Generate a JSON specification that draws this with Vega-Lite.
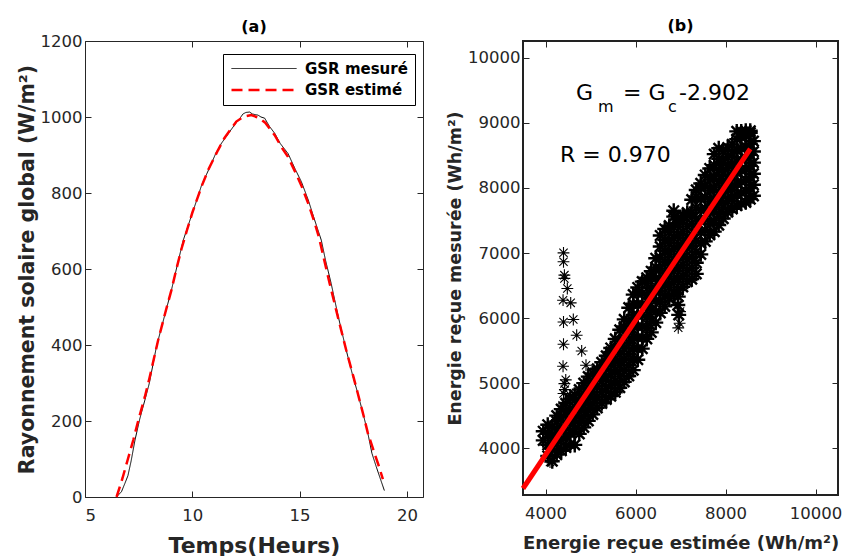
{
  "$schema": "https://vega.github.io/schema/vega-lite/v6.json",
  "background": "white",
  "padding": {"left": 16, "top": 16, "right": 0, "bottom": 0},
  "bounds": "flush",
  "spacing": 100,
  "config": {
    "font": "DejaVu Sans",
    "axis": {
      "labelFont": "DejaVu Sans", "labelFontSize": 16.5, "labelColor": "#262626",
      "grid": false, "tickSize": -6, "tickColor": "#262626", "tickWidth": 1,
      "domain": false, "labelPadding": 9, "format": "d",
      "titleFont": "DejaVu Sans", "titleFontWeight": "bold", "titleColor": "#262626"
    },
    "axisX": {"labelPadding": 16},
    "title": {"font": "DejaVu Sans", "fontSize": 16, "fontWeight": "bold", "color": "#000"}
  },
  "hconcat": [
    {
      "width": 338, "height": 456,
      "title": {"text": "(a)", "offset": -2},
      "view": {"stroke": "#262626", "strokeWidth": 1},
      "data": {"values": [
        {"series": "GSR mesuré", "t": 6.5, "g": 2},
        {"series": "GSR mesuré", "t": 6.7, "g": 14},
        {"series": "GSR mesuré", "t": 6.86, "g": 36},
        {"series": "GSR mesuré", "t": 7.0, "g": 56},
        {"series": "GSR mesuré", "t": 7.15, "g": 95},
        {"series": "GSR mesuré", "t": 7.33, "g": 150},
        {"series": "GSR mesuré", "t": 7.55, "g": 205},
        {"series": "GSR mesuré", "t": 7.79, "g": 255},
        {"series": "GSR mesuré", "t": 8.0, "g": 300},
        {"series": "GSR mesuré", "t": 8.33, "g": 396},
        {"series": "GSR mesuré", "t": 8.7, "g": 475},
        {"series": "GSR mesuré", "t": 9.03, "g": 545},
        {"series": "GSR mesuré", "t": 9.3, "g": 610},
        {"series": "GSR mesuré", "t": 9.58, "g": 676},
        {"series": "GSR mesuré", "t": 9.9, "g": 730},
        {"series": "GSR mesuré", "t": 10.2, "g": 780},
        {"series": "GSR mesuré", "t": 10.43, "g": 820},
        {"series": "GSR mesuré", "t": 10.8, "g": 866},
        {"series": "GSR mesuré", "t": 11.1, "g": 905},
        {"series": "GSR mesuré", "t": 11.36, "g": 931},
        {"series": "GSR mesuré", "t": 11.7, "g": 958},
        {"series": "GSR mesuré", "t": 11.98, "g": 980},
        {"series": "GSR mesuré", "t": 12.2, "g": 995},
        {"series": "GSR mesuré", "t": 12.36, "g": 1008},
        {"series": "GSR mesuré", "t": 12.5, "g": 1012},
        {"series": "GSR mesuré", "t": 12.67, "g": 1013},
        {"series": "GSR mesuré", "t": 12.8, "g": 1008},
        {"series": "GSR mesuré", "t": 12.95, "g": 1006},
        {"series": "GSR mesuré", "t": 13.06, "g": 1005},
        {"series": "GSR mesuré", "t": 13.2, "g": 1000},
        {"series": "GSR mesuré", "t": 13.37, "g": 997},
        {"series": "GSR mesuré", "t": 13.6, "g": 975},
        {"series": "GSR mesuré", "t": 13.84, "g": 957},
        {"series": "GSR mesuré", "t": 14.1, "g": 930},
        {"series": "GSR mesuré", "t": 14.46, "g": 904},
        {"series": "GSR mesuré", "t": 14.8, "g": 862},
        {"series": "GSR mesuré", "t": 15.08, "g": 830},
        {"series": "GSR mesuré", "t": 15.4, "g": 782},
        {"series": "GSR mesuré", "t": 15.7, "g": 729},
        {"series": "GSR mesuré", "t": 16.01, "g": 676},
        {"series": "GSR mesuré", "t": 16.2, "g": 625},
        {"series": "GSR mesuré", "t": 16.47, "g": 562},
        {"series": "GSR mesuré", "t": 16.8, "g": 475},
        {"series": "GSR mesuré", "t": 17.17, "g": 387},
        {"series": "GSR mesuré", "t": 17.45, "g": 325},
        {"series": "GSR mesuré", "t": 17.71, "g": 273},
        {"series": "GSR mesuré", "t": 18.0, "g": 210},
        {"series": "GSR mesuré", "t": 18.18, "g": 168},
        {"series": "GSR mesuré", "t": 18.37, "g": 115},
        {"series": "GSR mesuré", "t": 18.57, "g": 80},
        {"series": "GSR mesuré", "t": 18.75, "g": 50},
        {"series": "GSR mesuré", "t": 18.95, "g": 17},
        {"series": "GSR estimé", "t": 6.47, "g": 0},
        {"series": "GSR estimé", "t": 6.75, "g": 50},
        {"series": "GSR estimé", "t": 7.0, "g": 100},
        {"series": "GSR estimé", "t": 7.25, "g": 150},
        {"series": "GSR estimé", "t": 7.5, "g": 205},
        {"series": "GSR estimé", "t": 7.79, "g": 264},
        {"series": "GSR estimé", "t": 8.0, "g": 312},
        {"series": "GSR estimé", "t": 8.41, "g": 413},
        {"series": "GSR estimé", "t": 8.75, "g": 487},
        {"series": "GSR estimé", "t": 9.03, "g": 545},
        {"series": "GSR estimé", "t": 9.25, "g": 598},
        {"series": "GSR estimé", "t": 9.5, "g": 654},
        {"series": "GSR estimé", "t": 9.75, "g": 702},
        {"series": "GSR estimé", "t": 10.0, "g": 748},
        {"series": "GSR estimé", "t": 10.43, "g": 817},
        {"series": "GSR estimé", "t": 10.75, "g": 862},
        {"series": "GSR estimé", "t": 11.2, "g": 913},
        {"series": "GSR estimé", "t": 11.5, "g": 945},
        {"series": "GSR estimé", "t": 12.05, "g": 988},
        {"series": "GSR estimé", "t": 12.4, "g": 1001},
        {"series": "GSR estimé", "t": 12.75, "g": 1005},
        {"series": "GSR estimé", "t": 13.1, "g": 998},
        {"series": "GSR estimé", "t": 13.4, "g": 985},
        {"series": "GSR estimé", "t": 13.84, "g": 952},
        {"series": "GSR estimé", "t": 14.2, "g": 917},
        {"series": "GSR estimé", "t": 14.46, "g": 895},
        {"series": "GSR estimé", "t": 14.8, "g": 855},
        {"series": "GSR estimé", "t": 15.08, "g": 820},
        {"series": "GSR estimé", "t": 15.4, "g": 773},
        {"series": "GSR estimé", "t": 15.7, "g": 722},
        {"series": "GSR estimé", "t": 15.9, "g": 684},
        {"series": "GSR estimé", "t": 16.1, "g": 635},
        {"series": "GSR estimé", "t": 16.4, "g": 562},
        {"series": "GSR estimé", "t": 16.8, "g": 470},
        {"series": "GSR estimé", "t": 17.17, "g": 387},
        {"series": "GSR estimé", "t": 17.5, "g": 318},
        {"series": "GSR estimé", "t": 17.71, "g": 273},
        {"series": "GSR estimé", "t": 18.0, "g": 210},
        {"series": "GSR estimé", "t": 18.18, "g": 168},
        {"series": "GSR estimé", "t": 18.49, "g": 115},
        {"series": "GSR estimé", "t": 18.7, "g": 80},
        {"series": "GSR estimé", "t": 18.88, "g": 47}
      ]},
      "layer": [
        {
          "mark": {"type": "line"},
          "encoding": {
            "x": {"field": "t", "type": "quantitative",
                  "scale": {"domain": [5, 20.75], "nice": false, "zero": false},
                  "axis": {"values": [5, 10, 15, 20], "title": "Temps(Heurs)", "titleFontSize": 22, "titlePadding": 12}},
            "y": {"field": "g", "type": "quantitative",
                  "scale": {"domain": [0, 1200], "nice": false},
                  "axis": {"values": [0, 200, 400, 600, 800, 1000, 1200], "title": "Rayonnement solaire global (W/m²)", "titleFontSize": 20.5, "titlePadding": 3}},
            "color": {"field": "series", "type": "nominal",
                      "scale": {"domain": ["GSR mesuré", "GSR estimé"], "range": ["#000000", "#ff0000"]},
                      "legend": {"orient": "none", "legendX": 138, "legendY": 13, "title": null,
                                 "symbolType": "M-1,0L9,0", "symbolSize": 169, "rowPadding": 5,
                                 "labelFont": "DejaVu Sans", "labelFontWeight": "bold", "labelFontSize": 15,
                                 "labelColor": "#000", "strokeColor": "#000", "fillColor": "white",
                                 "padding": 7, "labelOffset": 59}},
            "strokeDash": {"field": "series", "type": "nominal",
                           "scale": {"domain": ["GSR mesuré", "GSR estimé"], "range": [[1, 0], [11, 6]]}},
            "strokeWidth": {"field": "series", "type": "nominal",
                            "scale": {"domain": ["GSR mesuré", "GSR estimé"], "range": [1, 2.5]}}
          }
        },
        {
          "mark": {"type": "point", "opacity": 0},
          "encoding": {
            "x": {"field": "t", "type": "quantitative",
                  "axis": {"orient": "top", "values": [5, 10, 15, 20], "labels": false, "title": null}},
            "y": {"field": "g", "type": "quantitative",
                  "axis": {"orient": "right", "values": [0, 200, 400, 600, 800, 1000, 1200], "labels": false, "title": null}}
          }
        }
      ],
      "resolve": {"axis": {"x": "independent", "y": "independent"}}
    },
    {
      "width": 315, "height": 454,
      "title": {"text": "(b)", "offset": 7},
      "view": {"stroke": "#222", "strokeWidth": 2},
      "layer": [
        {
          "data": {"values": [
            {"est": 3950, "mes": 4120}, {"est": 3950, "mes": 4260},
            {"est": 4050, "mes": 3880}, {"est": 4050, "mes": 4050}, {"est": 4050, "mes": 4220}, {"est": 4050, "mes": 4360},
            {"est": 4150, "mes": 3800}, {"est": 4150, "mes": 3990}, {"est": 4150, "mes": 4160}, {"est": 4150, "mes": 4330},
            {"est": 4250, "mes": 3900}, {"est": 4250, "mes": 4070}, {"est": 4250, "mes": 4240}, {"est": 4250, "mes": 4410}, {"est": 4250, "mes": 4500},
            {"est": 4350, "mes": 3960}, {"est": 4350, "mes": 4130}, {"est": 4350, "mes": 4300}, {"est": 4350, "mes": 4470}, {"est": 4350, "mes": 4600},
            {"est": 4450, "mes": 4010}, {"est": 4450, "mes": 4180}, {"est": 4450, "mes": 4350}, {"est": 4450, "mes": 4520}, {"est": 4450, "mes": 4690},
            {"est": 4550, "mes": 4060}, {"est": 4550, "mes": 4230}, {"est": 4550, "mes": 4400}, {"est": 4550, "mes": 4570}, {"est": 4550, "mes": 4760},
            {"est": 4650, "mes": 4050}, {"est": 4650, "mes": 4290}, {"est": 4650, "mes": 4460}, {"est": 4650, "mes": 4630}, {"est": 4650, "mes": 4820},
            {"est": 4750, "mes": 4220}, {"est": 4750, "mes": 4390}, {"est": 4750, "mes": 4560}, {"est": 4750, "mes": 4730}, {"est": 4750, "mes": 4900},
            {"est": 4850, "mes": 4320}, {"est": 4850, "mes": 4490}, {"est": 4850, "mes": 4660}, {"est": 4850, "mes": 4830}, {"est": 4850, "mes": 5000},
            {"est": 4950, "mes": 4420}, {"est": 4950, "mes": 4590}, {"est": 4950, "mes": 4760}, {"est": 4950, "mes": 4930}, {"est": 4950, "mes": 5100},
            {"est": 5050, "mes": 4520}, {"est": 5050, "mes": 4690}, {"est": 5050, "mes": 4860}, {"est": 5050, "mes": 5030}, {"est": 5050, "mes": 5150},
            {"est": 5150, "mes": 4620}, {"est": 5150, "mes": 4790}, {"est": 5150, "mes": 4960}, {"est": 5150, "mes": 5130}, {"est": 5150, "mes": 5220},
            {"est": 5250, "mes": 4690}, {"est": 5250, "mes": 4860}, {"est": 5250, "mes": 5030}, {"est": 5250, "mes": 5200}, {"est": 5250, "mes": 5320},
            {"est": 5350, "mes": 4750}, {"est": 5350, "mes": 4920}, {"est": 5350, "mes": 5090}, {"est": 5350, "mes": 5260}, {"est": 5350, "mes": 5420},
            {"est": 5450, "mes": 4800}, {"est": 5450, "mes": 4970}, {"est": 5450, "mes": 5140}, {"est": 5450, "mes": 5310}, {"est": 5450, "mes": 5480}, {"est": 5450, "mes": 5540},
            {"est": 5550, "mes": 4860}, {"est": 5550, "mes": 5030}, {"est": 5550, "mes": 5200}, {"est": 5550, "mes": 5370}, {"est": 5550, "mes": 5540}, {"est": 5550, "mes": 5680},
            {"est": 5650, "mes": 4930}, {"est": 5650, "mes": 5100}, {"est": 5650, "mes": 5270}, {"est": 5650, "mes": 5440}, {"est": 5650, "mes": 5610}, {"est": 5650, "mes": 5820},
            {"est": 5750, "mes": 5020}, {"est": 5750, "mes": 5190}, {"est": 5750, "mes": 5360}, {"est": 5750, "mes": 5530}, {"est": 5750, "mes": 5700}, {"est": 5750, "mes": 5870}, {"est": 5750, "mes": 5980},
            {"est": 5850, "mes": 5110}, {"est": 5850, "mes": 5280}, {"est": 5850, "mes": 5450}, {"est": 5850, "mes": 5620}, {"est": 5850, "mes": 5790}, {"est": 5850, "mes": 5960}, {"est": 5850, "mes": 6160},
            {"est": 5950, "mes": 5200}, {"est": 5950, "mes": 5370}, {"est": 5950, "mes": 5540}, {"est": 5950, "mes": 5710}, {"est": 5950, "mes": 5880}, {"est": 5950, "mes": 6050}, {"est": 5950, "mes": 6220}, {"est": 5950, "mes": 6360},
            {"est": 6050, "mes": 5360}, {"est": 6050, "mes": 5530}, {"est": 6050, "mes": 5700}, {"est": 6050, "mes": 5870}, {"est": 6050, "mes": 6040}, {"est": 6050, "mes": 6210}, {"est": 6050, "mes": 6380}, {"est": 6050, "mes": 6470},
            {"est": 6150, "mes": 5530}, {"est": 6150, "mes": 5700}, {"est": 6150, "mes": 5870}, {"est": 6150, "mes": 6040}, {"est": 6150, "mes": 6210}, {"est": 6150, "mes": 6380}, {"est": 6150, "mes": 6560},
            {"est": 6250, "mes": 5680}, {"est": 6250, "mes": 5850}, {"est": 6250, "mes": 6020}, {"est": 6250, "mes": 6190}, {"est": 6250, "mes": 6360}, {"est": 6250, "mes": 6530}, {"est": 6250, "mes": 6620},
            {"est": 6350, "mes": 5780}, {"est": 6350, "mes": 5950}, {"est": 6350, "mes": 6120}, {"est": 6350, "mes": 6290}, {"est": 6350, "mes": 6460}, {"est": 6350, "mes": 6630}, {"est": 6350, "mes": 6720},
            {"est": 6450, "mes": 5930}, {"est": 6450, "mes": 6100}, {"est": 6450, "mes": 6270}, {"est": 6450, "mes": 6440}, {"est": 6450, "mes": 6610}, {"est": 6450, "mes": 6780}, {"est": 6450, "mes": 6920},
            {"est": 6550, "mes": 6080}, {"est": 6550, "mes": 6250}, {"est": 6550, "mes": 6420}, {"est": 6550, "mes": 6590}, {"est": 6550, "mes": 6760}, {"est": 6550, "mes": 6930}, {"est": 6550, "mes": 7100}, {"est": 6550, "mes": 7270},
            {"est": 6650, "mes": 6180}, {"est": 6650, "mes": 6350}, {"est": 6650, "mes": 6520}, {"est": 6650, "mes": 6690}, {"est": 6650, "mes": 6860}, {"est": 6650, "mes": 7030}, {"est": 6650, "mes": 7200}, {"est": 6650, "mes": 7370},
            {"est": 6750, "mes": 6300}, {"est": 6750, "mes": 6470}, {"est": 6750, "mes": 6640}, {"est": 6750, "mes": 6810}, {"est": 6750, "mes": 6980}, {"est": 6750, "mes": 7150}, {"est": 6750, "mes": 7320}, {"est": 6750, "mes": 7420},
            {"est": 6850, "mes": 6380}, {"est": 6850, "mes": 6550}, {"est": 6850, "mes": 6720}, {"est": 6850, "mes": 6890}, {"est": 6850, "mes": 7060}, {"est": 6850, "mes": 7230}, {"est": 6850, "mes": 7400}, {"est": 6850, "mes": 7560}, {"est": 6850, "mes": 7650},
            {"est": 6950, "mes": 6430}, {"est": 6950, "mes": 6600}, {"est": 6950, "mes": 6770}, {"est": 6950, "mes": 6940}, {"est": 6950, "mes": 7110}, {"est": 6950, "mes": 7280}, {"est": 6950, "mes": 7450}, {"est": 6950, "mes": 7520},
            {"est": 6960, "mes": 6050}, {"est": 6940, "mes": 6200}, {"est": 6950, "mes": 6330},
            {"est": 7050, "mes": 6480}, {"est": 7050, "mes": 6650}, {"est": 7050, "mes": 6820}, {"est": 7050, "mes": 6990}, {"est": 7050, "mes": 7160}, {"est": 7050, "mes": 7330}, {"est": 7050, "mes": 7500}, {"est": 7050, "mes": 7570},
            {"est": 7150, "mes": 6560}, {"est": 7150, "mes": 6730}, {"est": 7150, "mes": 6900}, {"est": 7150, "mes": 7070}, {"est": 7150, "mes": 7240}, {"est": 7150, "mes": 7410}, {"est": 7150, "mes": 7580}, {"est": 7150, "mes": 7620},
            {"est": 7250, "mes": 6600}, {"est": 7250, "mes": 6770}, {"est": 7250, "mes": 6940}, {"est": 7250, "mes": 7110}, {"est": 7250, "mes": 7280}, {"est": 7250, "mes": 7450}, {"est": 7250, "mes": 7620}, {"est": 7250, "mes": 7820},
            {"est": 7350, "mes": 6680}, {"est": 7350, "mes": 6850}, {"est": 7350, "mes": 7020}, {"est": 7350, "mes": 7190}, {"est": 7350, "mes": 7360}, {"est": 7350, "mes": 7530}, {"est": 7350, "mes": 7700}, {"est": 7350, "mes": 7870}, {"est": 7350, "mes": 7970},
            {"est": 7450, "mes": 6980}, {"est": 7450, "mes": 7150}, {"est": 7450, "mes": 7320}, {"est": 7450, "mes": 7490}, {"est": 7450, "mes": 7660}, {"est": 7450, "mes": 7830}, {"est": 7450, "mes": 8000}, {"est": 7450, "mes": 8070},
            {"est": 7550, "mes": 7180}, {"est": 7550, "mes": 7350}, {"est": 7550, "mes": 7520}, {"est": 7550, "mes": 7690}, {"est": 7550, "mes": 7860}, {"est": 7550, "mes": 8030}, {"est": 7550, "mes": 8200},
            {"est": 7650, "mes": 7280}, {"est": 7650, "mes": 7450}, {"est": 7650, "mes": 7620}, {"est": 7650, "mes": 7790}, {"est": 7650, "mes": 7960}, {"est": 7650, "mes": 8130}, {"est": 7650, "mes": 8300},
            {"est": 7750, "mes": 7330}, {"est": 7750, "mes": 7500}, {"est": 7750, "mes": 7670}, {"est": 7750, "mes": 7840}, {"est": 7750, "mes": 8010}, {"est": 7750, "mes": 8180}, {"est": 7750, "mes": 8350}, {"est": 7750, "mes": 8520},
            {"est": 7850, "mes": 7430}, {"est": 7850, "mes": 7600}, {"est": 7850, "mes": 7770}, {"est": 7850, "mes": 7940}, {"est": 7850, "mes": 8110}, {"est": 7850, "mes": 8280}, {"est": 7850, "mes": 8450}, {"est": 7850, "mes": 8610},
            {"est": 7950, "mes": 7530}, {"est": 7950, "mes": 7700}, {"est": 7950, "mes": 7870}, {"est": 7950, "mes": 8040}, {"est": 7950, "mes": 8210}, {"est": 7950, "mes": 8380}, {"est": 7950, "mes": 8570},
            {"est": 8050, "mes": 7630}, {"est": 8050, "mes": 7800}, {"est": 8050, "mes": 7970}, {"est": 8050, "mes": 8140}, {"est": 8050, "mes": 8310}, {"est": 8050, "mes": 8480}, {"est": 8050, "mes": 8620},
            {"est": 8150, "mes": 7680}, {"est": 8150, "mes": 7850}, {"est": 8150, "mes": 8020}, {"est": 8150, "mes": 8190}, {"est": 8150, "mes": 8360}, {"est": 8150, "mes": 8530}, {"est": 8150, "mes": 8670},
            {"est": 8250, "mes": 7730}, {"est": 8250, "mes": 7900}, {"est": 8250, "mes": 8070}, {"est": 8250, "mes": 8240}, {"est": 8250, "mes": 8410}, {"est": 8250, "mes": 8580}, {"est": 8250, "mes": 8750}, {"est": 8250, "mes": 8870},
            {"est": 8350, "mes": 7760}, {"est": 8350, "mes": 7930}, {"est": 8350, "mes": 8100}, {"est": 8350, "mes": 8270}, {"est": 8350, "mes": 8440}, {"est": 8350, "mes": 8610}, {"est": 8350, "mes": 8780}, {"est": 8350, "mes": 8870},
            {"est": 8450, "mes": 7780}, {"est": 8450, "mes": 7950}, {"est": 8450, "mes": 8120}, {"est": 8450, "mes": 8290}, {"est": 8450, "mes": 8460}, {"est": 8450, "mes": 8630}, {"est": 8450, "mes": 8800}, {"est": 8450, "mes": 8880},
            {"est": 8550, "mes": 7830}, {"est": 8550, "mes": 8000}, {"est": 8550, "mes": 8170}, {"est": 8550, "mes": 8340}, {"est": 8550, "mes": 8510}, {"est": 8550, "mes": 8680}, {"est": 8550, "mes": 8850}, {"est": 8550, "mes": 8880},
            {"est": 8620, "mes": 7880}, {"est": 8620, "mes": 8050}, {"est": 8620, "mes": 8220}, {"est": 8620, "mes": 8390}, {"est": 8620, "mes": 8560}, {"est": 8620, "mes": 8720}
          ]},
          "mark": {"type": "point", "shape": "M-1,0L1,0M0,-1L0,1M-0.7,-0.7L0.7,0.7M-0.7,0.7L0.7,-0.7",
                   "filled": false, "size": 225, "strokeWidth": 2.4, "color": "#000", "opacity": 1},
          "encoding": {
            "x": {"field": "est", "type": "quantitative",
                  "scale": {"domain": [3500, 10500], "nice": false, "zero": false},
                  "axis": {"values": [4000, 6000, 8000, 10000], "title": "Energie reçue estimée (Wh/m²)", "titleFontSize": 18, "titlePadding": 13}},
            "y": {"field": "mes", "type": "quantitative",
                  "scale": {"domain": [3280, 10260], "nice": false, "zero": false},
                  "axis": {"values": [4000, 5000, 6000, 7000, 8000, 9000, 10000], "title": "Energie reçue mesurée (Wh/m²)", "titleFontSize": 17.5, "titlePadding": 3}}
          }
        },
        {
          "data": {"values": [
            {"est": 4400, "mes": 7003}, {"est": 4400, "mes": 6865}, {"est": 4420, "mes": 6660}, {"est": 4420, "mes": 6610},
            {"est": 4485, "mes": 6455}, {"est": 4390, "mes": 6275}, {"est": 4560, "mes": 6234}, {"est": 4618, "mes": 5978},
            {"est": 4400, "mes": 5940}, {"est": 4693, "mes": 5737}, {"est": 4400, "mes": 5598}, {"est": 4804, "mes": 5495},
            {"est": 4900, "mes": 5275}, {"est": 4390, "mes": 5260}, {"est": 4420, "mes": 4993}, {"est": 4450, "mes": 5050},
            {"est": 4400, "mes": 4840}, {"est": 4380, "mes": 4660}, {"est": 4430, "mes": 4900}, {"est": 4100, "mes": 3787},
            {"est": 6950, "mes": 5850}, {"est": 6980, "mes": 5920}, {"est": 6990, "mes": 6100}
          ]},
          "mark": {"type": "point", "shape": "M-1,0L1,0M0,-1L0,1M-0.7,-0.7L0.7,0.7M-0.7,0.7L0.7,-0.7",
                   "filled": false, "size": 140, "strokeWidth": 1.1, "color": "#000", "opacity": 1},
          "encoding": {
            "x": {"field": "est", "type": "quantitative", "axis": null},
            "y": {"field": "mes", "type": "quantitative", "axis": null}
          }
        },
        {
          "data": {"values": [{"est": 3500, "mes": 3380}, {"est": 8550, "mes": 8600}]},
          "mark": {"type": "line", "color": "#ff0000", "strokeWidth": 5},
          "encoding": {
            "x": {"field": "est", "type": "quantitative", "axis": null},
            "y": {"field": "mes", "type": "quantitative", "axis": null}
          }
        },
        {
          "data": {"values": [
            {"est": 4678, "mes": 9360, "label": "G"},
            {"est": 5722, "mes": 9360, "label": "= G"},
            {"est": 6967, "mes": 9360, "label": "-2.902"},
            {"est": 4322, "mes": 8403, "label": "R = 0.970"}
          ]},
          "mark": {"type": "text", "font": "DejaVu Sans", "fontSize": 22, "align": "left", "baseline": "alphabetic", "color": "#000"},
          "encoding": {
            "x": {"field": "est", "type": "quantitative", "axis": null},
            "y": {"field": "mes", "type": "quantitative", "axis": null},
            "text": {"field": "label"}
          }
        },
        {
          "data": {"values": [
            {"est": 5167, "mes": 9172, "label": "m"},
            {"est": 6722, "mes": 9172, "label": "c"}
          ]},
          "mark": {"type": "text", "font": "DejaVu Sans", "fontSize": 16, "align": "left", "baseline": "alphabetic", "color": "#000"},
          "encoding": {
            "x": {"field": "est", "type": "quantitative", "axis": null},
            "y": {"field": "mes", "type": "quantitative", "axis": null},
            "text": {"field": "label"}
          }
        },
        {
          "data": {"values": [{"est": 4000, "mes": 4000}]},
          "mark": {"type": "point", "opacity": 0},
          "encoding": {
            "x": {"field": "est", "type": "quantitative",
                  "axis": {"orient": "top", "values": [4000, 6000, 8000, 10000], "labels": false, "title": null}},
            "y": {"field": "mes", "type": "quantitative",
                  "axis": {"orient": "right", "values": [4000, 5000, 6000, 7000, 8000, 9000, 10000], "labels": false, "title": null}}
          }
        }
      ],
      "resolve": {"axis": {"x": "independent", "y": "independent"}}
    }
  ]
}
